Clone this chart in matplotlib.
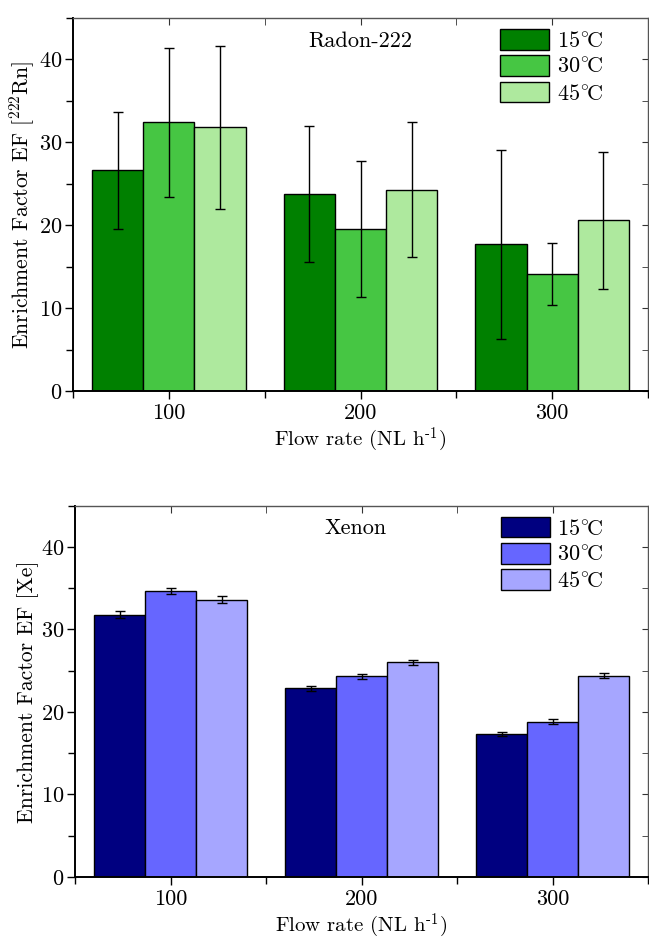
import matplotlib
matplotlib.use("Agg")
import matplotlib.pyplot as plt
import numpy as np

plt.rcParams['font.family'] = ['cmr10', 'DejaVu Serif']
plt.rcParams['mathtext.fontset'] = 'cm'
plt.rcParams['axes.formatter.use_mathtext'] = True

flow_rates = [100, 200, 300]
temps = ['15$^{\\circ}\\!$C', '30$^{\\circ}\\!$C', '45$^{\\circ}\\!$C']

rn_values = [
    [26.6, 23.8, 17.7],
    [32.4, 19.5, 14.1],
    [31.8, 24.3, 20.6],
]
rn_errors = [
    [7.0, 8.2, 11.4],
    [9.0, 8.2, 3.7],
    [9.8, 8.15, 8.25],
]
xe_values = [
    [31.8, 22.9, 17.3],
    [34.7, 24.3, 18.8],
    [33.6, 26.0, 24.4],
]
xe_errors = [
    [0.45, 0.3, 0.25],
    [0.35, 0.3, 0.3],
    [0.4, 0.35, 0.3],
]

rn_colors = ['#008000', '#46C643', '#AEE99E']
xe_colors = ['#000080', '#6666FF', '#A6A6FF']

FS = 16

fig = plt.figure(figsize=(6.49, 9.41), dpi=100)
ax1 = fig.add_axes([0.1125, 0.5845, 0.8860, 0.3964])
ax2 = fig.add_axes([0.1156, 0.0680, 0.8830, 0.3946])


def draw(ax, values, errors, colors, title, ylabel, tx):
    x = np.array(flow_rates, dtype=float)
    w = 26.7
    offsets = [-w, 0, w]
    handles = []
    for i, t in enumerate(temps):
        b = ax.bar(x + offsets[i], values[i], width=w, color=colors[i],
                   edgecolor='black', linewidth=1.0, label=t, zorder=2)
        ax.errorbar(x + offsets[i], values[i], yerr=errors[i], fmt='none',
                    ecolor='black', elinewidth=1.0, capsize=3.5,
                    capthick=1.0, zorder=3)
        handles.append(b)
    ax.set_xlim(50, 350)
    ax.set_ylim(0, 45)
    ax.set_xticks(flow_rates)
    ax.set_xticklabels([str(v) for v in flow_rates])
    ax.set_xticks([50, 150, 250, 350], minor=True)
    ax.set_yticks([0, 10, 20, 30, 40])
    ax.set_yticks([5, 15, 25, 35, 45], minor=True)
    ax.tick_params(axis='both', which='both', direction='out', labelsize=FS,
                   top=False, right=False)
    ax.tick_params(axis='both', which='major', length=6, width=1)
    ax.tick_params(axis='both', which='minor', length=5, width=1)
    ax.tick_params(axis='x', which='major', pad=3)
    ax.tick_params(axis='y', which='major', pad=2)
    for s in ['left', 'bottom']:
        ax.spines[s].set_linewidth(1.4)
    for s in ['top', 'right']:
        ax.spines[s].set_linewidth(1.0)
        ax.spines[s].set_color('#555555')
    sx = ax.secondary_xaxis('top')
    sx.set_xticks(flow_rates)
    sx.set_xticks([50, 150, 250, 350], minor=True)
    sx.tick_params(axis='x', which='both', direction='in', length=5,
                   labeltop=False, color='#333333')
    sx.spines['top'].set_visible(False)
    sy = ax.secondary_yaxis('right')
    sy.set_yticks([0, 10, 20, 30, 40])
    sy.set_yticks([5, 15, 25, 35, 45], minor=True)
    sy.tick_params(axis='y', which='both', direction='in', length=4,
                   labelright=False, color='#333333')
    sy.spines['right'].set_visible(False)

    ax.set_xlabel('Flow rate (NL h$^{\\text{-}1}$)', fontsize=15,
                  labelpad=2)
    ax.set_ylabel(ylabel, fontsize=15.6, labelpad=1)
    ax.text(tx, 0.938, title, transform=ax.transAxes, ha='center',
            va='center', fontsize=FS)
    ax.legend(handles=handles, labels=temps, loc='upper left',
              bbox_to_anchor=(0.743, 0.97), frameon=False, fontsize=FS,
              handlelength=2.2, handleheight=1.05, labelspacing=0.2,
              handletextpad=0.35, borderpad=0, borderaxespad=0)


draw(ax1, rn_values, rn_errors, rn_colors, 'Radon-222',
     'Enrichment Factor EF [$^{\\mathregular{222}}$Rn]', 0.5)
draw(ax2, xe_values, xe_errors, xe_colors, 'Xenon',
     'Enrichment Factor EF [Xe]', 0.49)

fig.savefig('out.png', dpi=100)
